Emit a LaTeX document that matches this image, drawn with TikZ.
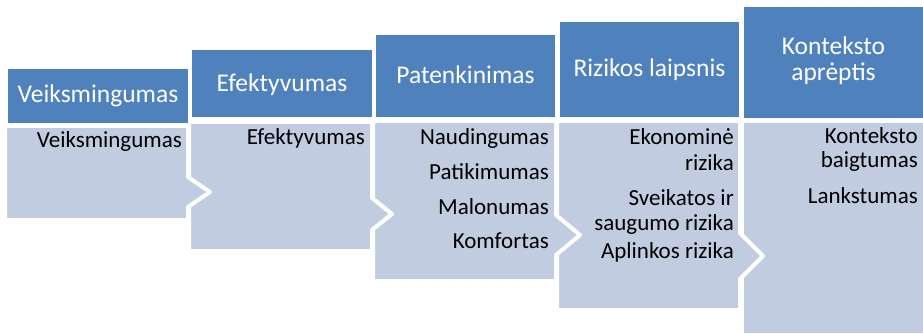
\documentclass[tikz,border=0pt]{standalone}
\usepackage{fontspec}
\setmainfont{Carlito}
\definecolor{headblue}{RGB}{79,129,189}
\definecolor{bodyblue}{RGB}{194,204,224}
\begin{document}
\begin{tikzpicture}[x=1pt,y=-1pt,
  headbox/.style={fill=headblue},
  bodybox/.style={fill=bodyblue,draw=white,line width=4pt,line join=round},
  headtext/.style={text=white,font=\fontsize{25.5}{27}\selectfont,inner sep=0pt,anchor=base},
  itemtext/.style={text=black,font=\fontsize{23}{24.5}\selectfont,inner sep=0pt,anchor=base east}]
\useasboundingbox (0,0) rectangle (923,334);

% lower panels, drawn right to left so each arrow tip lies over the next panel
\path[bodybox] (742,121) -- (930,121) -- (930,335) -- (742,335) -- cycle;
\path[bodybox] (557,121) -- (740,121) -- (740,233) -- (763,256) -- (740,279)
  -- (740,310) -- (557,310) -- cycle;
\path[bodybox] (373,121) -- (556,121) -- (556,215) -- (580,235) -- (556,255)
  -- (556,281) -- (373,281) -- cycle;
\path[bodybox] (189,122) -- (372,122) -- (372,198) -- (392,214) -- (372,230)
  -- (372,251) -- (189,251) -- cycle;
\path[bodybox] (5,126) -- (188,126) -- (188,177) -- (210,192) -- (188,207)
  -- (188,220) -- (5,220) -- cycle;

% header bars
\path[headbox] (8,69) rectangle (188,123);
\path[headbox] (192,50) rectangle (372,117);
\path[headbox] (376,35) rectangle (555,117);
\path[headbox] (560,22) rectangle (739,117);
\path[headbox] (744,7) rectangle (923,118);

% header labels
\node[headtext] (h1) at (98,103) {Veiksmingumas};
\node[headtext] (h2) at (282,92) {Efektyvumas};
\node[headtext] (h3) at (465.5,84) {Patenkinimas};
\node[headtext] (h4) at (649.5,77) {Rizikos laipsnis};
\node[headtext] (h5a) at (833.5,55) {Konteksto};
\node[headtext] (h5b) at (833.5,81) {aprėptis};

% panel items
\node[itemtext] (a1) at (182,147) {Veiksmingumas};
\node[itemtext] (b1) at (365,145) {Efektyvumas};
\node[itemtext] (c1) at (549,145) {Naudingumas};
\node[itemtext] (c2) at (549,179) {Patikimumas};
\node[itemtext] (c3) at (549,214) {Malonumas};
\node[itemtext] (c4) at (549,248) {Komfortas};
\node[itemtext] (d1) at (734,145) {Ekonominė};
\node[itemtext] (d2) at (734,170) {rizika};
\node[itemtext] (d3) at (734,205) {Sveikatos ir};
\node[itemtext] (d4) at (734,230) {saugumo rizika};
\node[itemtext] (d5) at (734,258) {Aplinkos rizika};
\node[itemtext] (e1) at (918,143) {Konteksto};
\node[itemtext] (e2) at (918,167) {baigtumas};
\node[itemtext] (e3) at (918,203) {Lankstumas};
\end{tikzpicture}
\end{document}
